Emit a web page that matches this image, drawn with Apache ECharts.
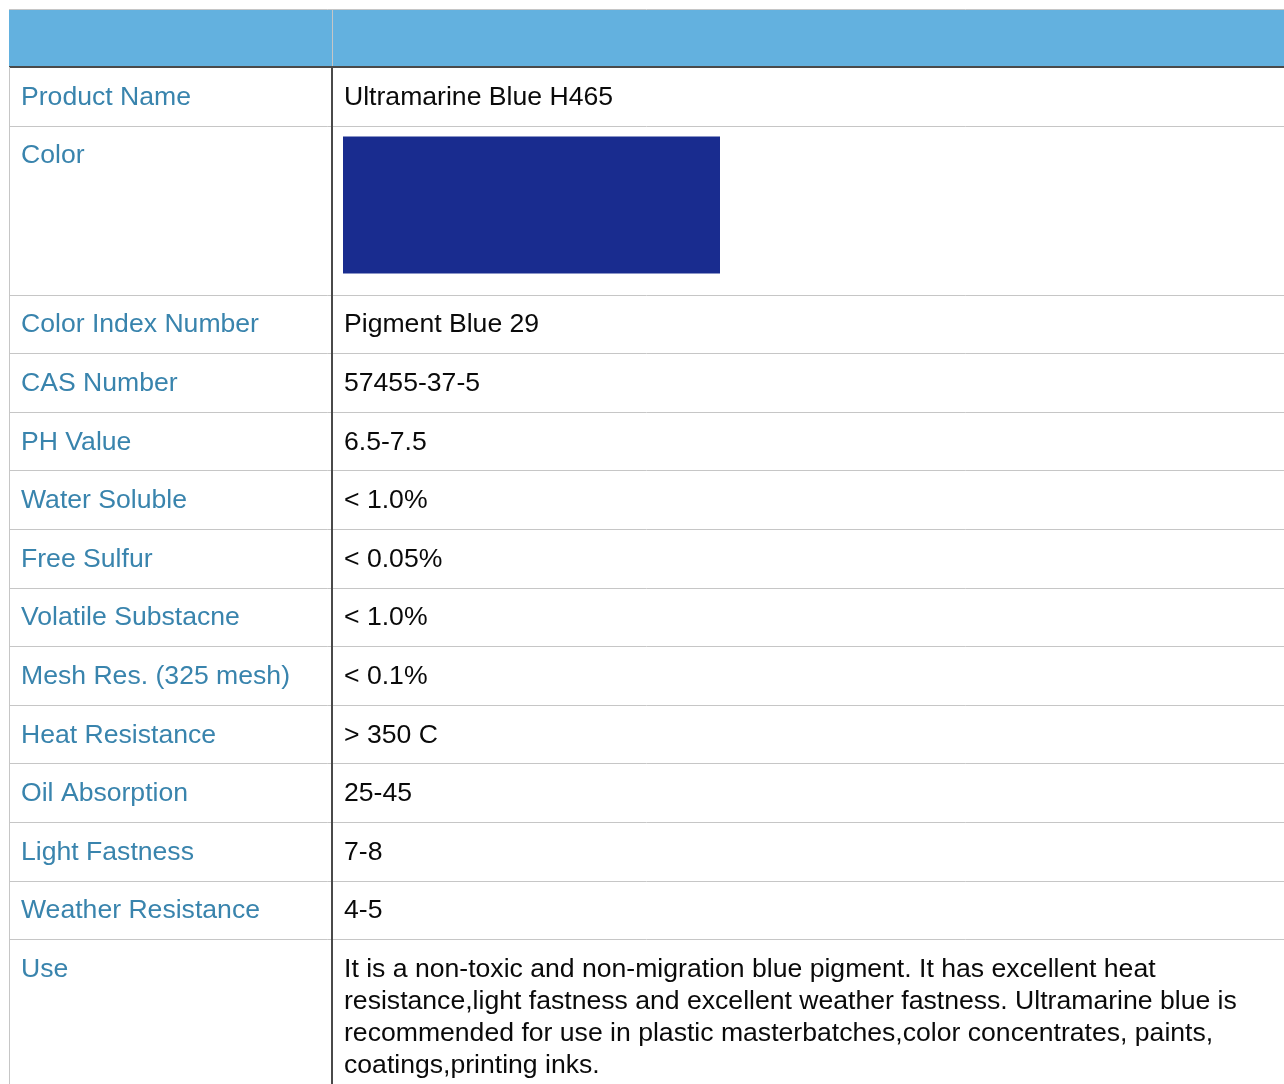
<!DOCTYPE html>
<html><head><meta charset="utf-8">
<script src="https://cdn.jsdelivr.net/npm/echarts@6/dist/echarts.min.js"></script>
<style>html,body{margin:0;padding:0;background:#fff}#c{width:1284px;height:1084px}</style>
</head><body><div id="c"></div>
<script>
// ---- data ----
const headerCells = ['', ''];
const rowLabels = ['Product Name', 'Color', 'Color Index Number', 'CAS Number', 'PH Value',
  'Water Soluble', 'Free Sulfur', 'Volatile Substacne', 'Mesh Res. (325 mesh)',
  'Heat Resistance', 'Oil Absorption', 'Light Fastness', 'Weather Resistance', 'Use'];
const rowValues = ['Ultramarine Blue H465', '', 'Pigment Blue 29', '57455-37-5', '6.5-7.5',
  '< 1.0%', '< 0.05%', '< 1.0%', '< 0.1%', '> 350 C', '25-45', '7-8', '4-5',
  'It is a non-toxic and non-migration blue pigment. It has excellent heat\nresistance,light fastness and excellent weather fastness. Ultramarine blue is\nrecommended for use in plastic masterbatches,color concentrates, paints,\ncoatings,printing inks.'];
const swatchRow = 'Color';

// ---- layout / style ----
const W = 1275, H = 1075;          // grid extent in layout units (1 unit = 1px)
const HEADER_H = 58, ROW_H = 58.6, SWATCH_ROW_H = 169, DIV_X = 323;
const SW_W = 377, SW_H = 137;
const FONT_FAMILY = '"Liberation Sans", Arial, Helvetica, sans-serif', FONT_SIZE = 26.6;
const LABEL_COLOR = '#3984ad', VALUE_COLOR = '#0a0a0a', LINE_COLOR = '#c6c6c6', DARK = '#4a4a4a';
const HEADER_COLOR = '#63b1df', SWATCH_COLOR = '#192c8f';
const TEXT_DY = 14.5;

const rowHeights = rowLabels.map((l) => (l === swatchRow ? SWATCH_ROW_H : ROW_H));
const rowTops = [];
let acc = HEADER_H;
rowHeights.forEach((h) => { rowTops.push(acc); acc += h; });
rowHeights[rowHeights.length - 1] = H - rowTops[rowTops.length - 1];

const crisp = v => Math.round(v) + 0.5;
function txt(text, x, y, color) {
  return {type: 'text', style: {text: text, x: x, y: y, fontFamily: FONT_FAMILY, fontSize: FONT_SIZE,
    fill: color, verticalAlign: 'top', lineHeight: 32}};
}

const chart = echarts.init(document.getElementById('c'), null, {renderer: 'canvas'});
chart.setOption({
  animation: false,
  backgroundColor: '#fff',
  textStyle: {fontFamily: FONT_FAMILY},
  grid: {left: 9, top: 9, right: 0, bottom: 0},
  xAxis: {type: 'value', min: 0, max: W, show: false},
  yAxis: {type: 'value', min: 0, max: H, inverse: true, show: false},
  series: [
    {
      type: 'custom',
      coordinateSystem: 'cartesian2d',
      data: [[0, 0]],
      encode: {x: 0, y: 1},
      renderItem: function (params, api) {
        const a = api.coord([0, 0]), b = api.coord([W, HEADER_H]);
        const d = api.coord([DIV_X, 0]);
        return {
          type: 'group',
          children: [
            {type: 'rect', shape: {x: a[0], y: a[1] + 1, width: b[0] - a[0], height: b[1] - a[1] - 1},
              style: {fill: HEADER_COLOR}},
            {type: 'line', shape: {x1: a[0], y1: crisp(a[1]), x2: b[0], y2: crisp(a[1])},
              style: {stroke: LINE_COLOR, lineWidth: 1}},
            {type: 'line', shape: {x1: crisp(d[0]), y1: a[1], x2: crisp(d[0]), y2: b[1]},
              style: {stroke: LINE_COLOR, lineWidth: 1}},
            {type: 'line', shape: {x1: a[0], y1: Math.round(b[1]), x2: b[0], y2: Math.round(b[1])},
              style: {stroke: DARK, lineWidth: 2}},
            txt(headerCells[0], a[0] + 12, a[1] + TEXT_DY, '#fff'),
            txt(headerCells[1], d[0] + 12, a[1] + TEXT_DY, '#fff')
          ]
        };
      }
    },
    {
      type: 'custom',
      coordinateSystem: 'cartesian2d',
      data: rowLabels.map((l, i) => [0, i]),
      encode: {x: 0, y: 1},
      renderItem: function (params, api) {
        const i = params.dataIndex;
        const top = rowTops[i], h = rowHeights[i];
        const a = api.coord([0, top]), b = api.coord([W, top + h]);
        const d = api.coord([DIV_X, 0]);
        const children = [];
        children.push(txt(rowLabels[i], a[0] + 12, a[1] + TEXT_DY, LABEL_COLOR));
        if (rowLabels[i] === swatchRow) {
          children.push({type: 'rect', shape: {x: d[0] + 11, y: a[1] + 11, width: SW_W, height: SW_H},
            style: {fill: SWATCH_COLOR}});
        } else {
          children.push(txt(rowValues[i], d[0] + 12, a[1] + TEXT_DY, VALUE_COLOR));
        }
        if (i < rowLabels.length - 1) {
          children.push({type: 'line', shape: {x1: a[0], y1: crisp(b[1]), x2: b[0], y2: crisp(b[1])},
            style: {stroke: LINE_COLOR, lineWidth: 1}});
        }
        children.push({type: 'line', shape: {x1: crisp(a[0]), y1: a[1], x2: crisp(a[0]), y2: b[1] + 1},
          style: {stroke: LINE_COLOR, lineWidth: 1}});
        children.push({type: 'line', shape: {x1: Math.round(d[0]), y1: a[1], x2: Math.round(d[0]), y2: b[1] + 1},
          style: {stroke: DARK, lineWidth: 2}});
        return {type: 'group', children: children};
      }
    }
  ]
});
</script>
</body></html>
